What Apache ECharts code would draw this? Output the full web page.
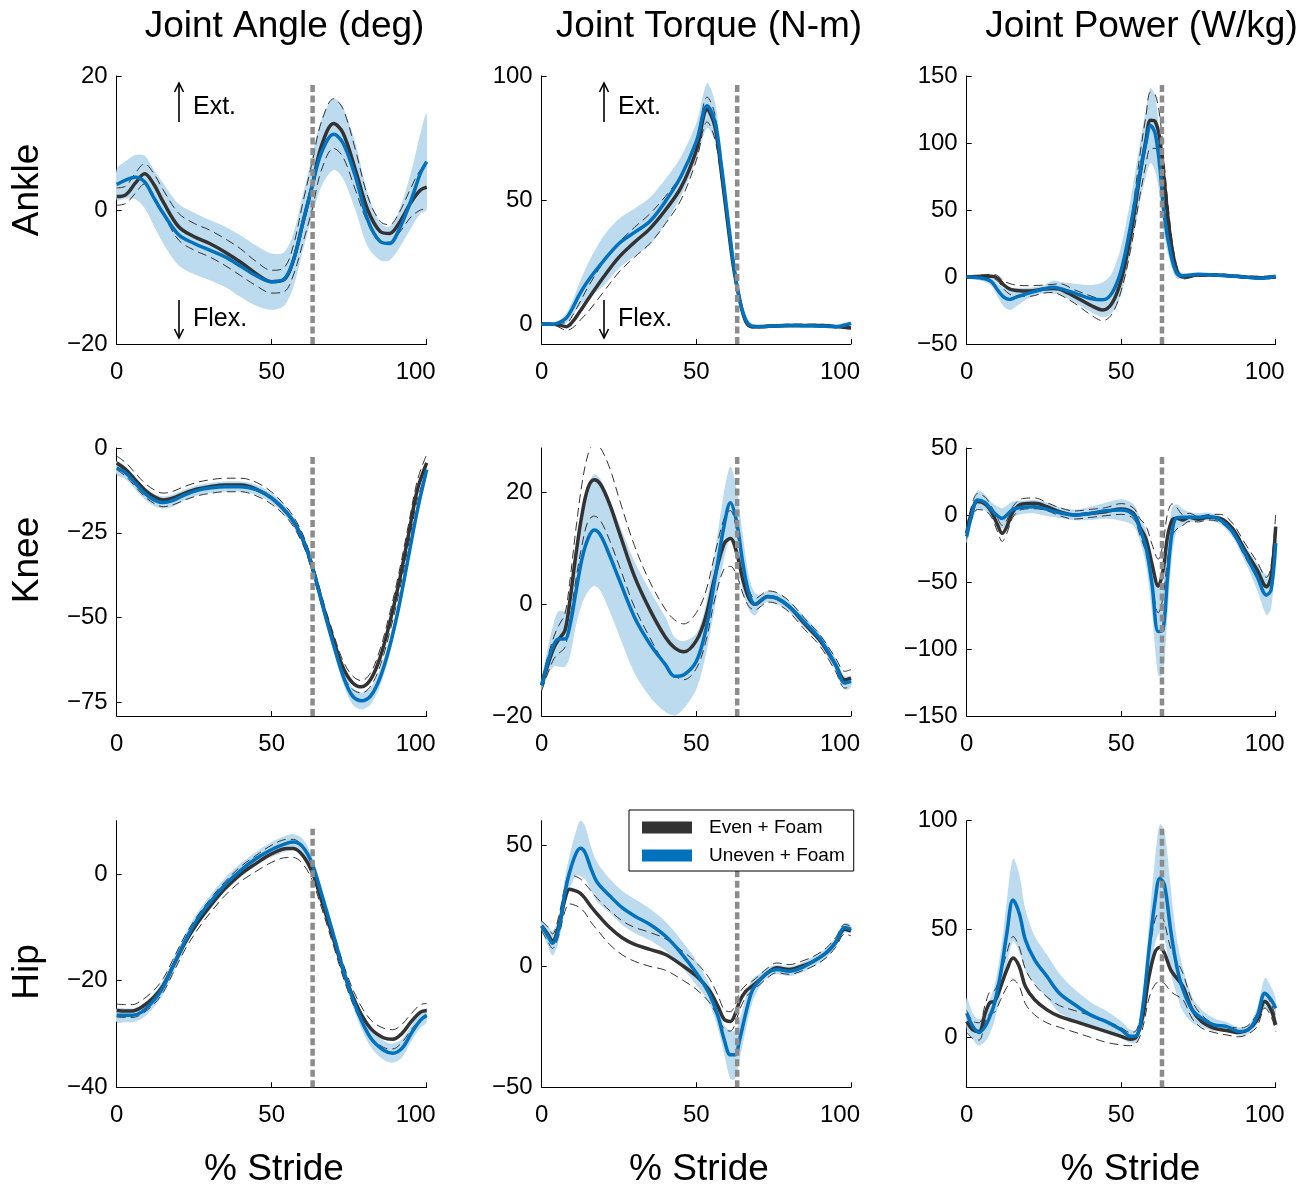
<!DOCTYPE html>
<html><head><meta charset="utf-8">
<script src="https://cdn.jsdelivr.net/npm/echarts@6/dist/echarts.min.js"></script>
<style>html,body{margin:0;padding:0;background:#fff;}#c{width:1312px;height:1193px;}</style>
</head><body><div id="c"></div>
<script>
// ---------- DATA ----------
const toeOff = 63.2;

// Ankle angle (deg)
const ankleAngleX = [0,3,6,9,12,15,20,25,30,35,40,45,50,54,57,60,63,66,70,73,77,81,85,88,91,95,98,100];
const ankleAngleEvenMean = [2,2.3,4,5.4,3.8,1.2,-2.5,-4,-5,-6.3,-7.8,-9.5,-10.7,-10.4,-7.5,-2,3.5,9.5,12.9,11.5,6,0,-3.2,-3.5,-2,1.2,3,3.4];
const ankleAngleEvenSd = [1.3,1.3,1.5,1.5,1.6,1.8,2,2,2,2,2,1.8,1.7,1.8,2.2,3,3.5,3.6,3.7,3.6,3,2,1.5,1.3,1.5,2.2,3,3.2];
const ankleAngleUnevenMean = [3.8,4.5,4.9,4.2,1.8,-0.5,-3.7,-5,-6,-7,-8.4,-9.8,-10.7,-10.3,-7.5,-2,3.5,8.5,11.3,10,5,-1.5,-4.7,-5,-3,1.5,5.5,7.2];
const ankleAngleUnevenSd = [2.3,2.8,3.3,3.9,4.2,4.5,4.6,4.6,4.5,4.5,4.6,4.5,4.2,4,4,4.2,4.5,5,5.3,5.3,5,4,2.8,2.5,2.8,4.2,6,7.2];

// Ankle torque (N-m)
const ankleTorqueX = [0,4,6,8,10,12,15,20,25,30,35,40,45,50,53.5,56,58,60,62,64,66,68,70,80,90,95,100];
const ankleTorqueEvenMean = [0,0,-0.5,-1,1,4.5,10,19,27,33,38.5,46,55,70,86.5,79.6,62,42,23,9.8,1,-1,-1,-0.5,-0.5,-1,-1.5];
const ankleTorqueEvenSd = [0.5,0.5,1,1.5,2.5,3.5,5,6,6,6,6,5.5,5,4,5,5,3,2,1.5,1,0.5,0.5,0.5,0.5,0.5,0.5,0.5];
const ankleTorqueUnevenMean = [0,0,0.8,2.5,6.5,11.5,17.5,25.5,32.5,37,41.5,49.5,59.5,73.6,88,81.6,64.8,44.7,24.6,9.8,1.7,-0.8,-1,-0.5,-0.8,-1,0.3];
const ankleTorqueUnevenSd = [0.5,0.5,1,2,3,4.5,7,10,10,9.5,9.5,9,8,7.5,9,8,6,4,2.5,1.5,1.5,1,0.8,0.8,0.8,0.8,0.8];

// Ankle power (W/kg)
const anklePowerX = [0,5,8,10,12,14,16,20,25,28,30,35,40,44,47,50,53,56,58,59.5,61,62.5,64,66,68,70,75,80,90,95,100];
const anklePowerEvenMean = [0,0.5,0.5,-1,-6,-9,-10,-10.5,-9,-8.5,-9,-14.7,-21,-24.6,-19.7,-2.2,30,75,102,117,116,103,70,28,5,0,1.5,1.5,0,-0.5,0];
const anklePowerEvenSd = [0.5,1,1.5,2,3,4,4,4,3,3,4,5,7,8,8,8,10,15,18,21,20,17,13,8,3,1.5,1,1,1,1,1];
const anklePowerUnevenMean = [0,-1,-3.5,-9.7,-15,-16.7,-15,-12,-9,-7.7,-8.5,-12,-16,-17,-12,5,37.6,77,100,113,107,82,45,17.7,2.7,1,2,1.5,0,-1,0.5];
const anklePowerUnevenSd = [0.5,2,3,5,7,8,7,4,3,5,5,7,10,13,15,18,20,22,25,28,28,22,15,8,4,2,1,1,1,1,1];

// Knee angle (deg)
const kneeAngleX = [0,3,6,9,12,15,18,22,26,30,35,40,45,50,55,58,61,64,67,70,73,76,79,82,85,88,91,94,97,100];
const kneeAngleEvenMean = [-4.4,-6.4,-9.4,-12.3,-14.3,-15.3,-14.8,-13.3,-12.1,-11.4,-10.9,-10.9,-12.1,-14.8,-19.2,-23.2,-29.1,-38,-47.9,-56.8,-64.7,-69.1,-70.4,-68.1,-61.7,-51.8,-40,-26.2,-12.3,-4.4];
const kneeAngleEvenSd = [2,2,2,2,2,2,2,2,2,2,2,2,2,1.8,1.5,1.5,1.5,1.5,1.5,1.8,2,2,1.8,2,2.5,2.8,3,3,2.8,2.5];
const kneeAngleUnevenMean = [-5.9,-7.4,-10.4,-13.3,-15.3,-16.1,-15.5,-13.8,-12.5,-11.8,-11.4,-11.4,-12.3,-14.8,-19.2,-23.2,-29.1,-38,-48.4,-58.2,-67.1,-73,-74.5,-73,-67.6,-58.7,-46.9,-32.6,-18.3,-6.4];
const kneeAngleUnevenSd = [2,1.8,1.8,1.8,1.8,1.8,1.8,1.6,1.5,1.5,1.5,1.5,1.5,1.5,1.5,1.5,1.5,1.5,1.5,1.8,2.2,2.5,2.5,2.5,2.5,2.3,2,2,2,2];

// Knee torque (N-m)
const kneeTorqueX = [0,2,4,5.5,7.5,9,11,13,15,17,19,22,25,30,35,40,43,46,50,53,56,59,61,63,65,67,69,71,73,76,80,85,90,95,98,100];
const kneeTorqueEvenMean = [-14.5,-10.8,-7.7,-6.3,-4.7,0.2,8.7,16,20.9,22.3,21.5,17.9,13,5,-1,-5.9,-7.8,-8.5,-6.5,-2.3,5,10.9,11.8,9.3,4.5,1.1,0,0.7,1.4,1.1,-0.4,-3.5,-6.5,-10.8,-13.5,-13.2];
const kneeTorqueEvenSd = [1,1.5,2,2.5,3,3.5,4.5,5.5,6,6.5,6.5,6.5,6,5.5,5,5,5,5,5,4.5,4,4.5,5,4,2.5,1.5,1,1,1,1,1,1,1,1.2,1.5,1.5];
const kneeTorqueUnevenMean = [-14.5,-10.2,-7.1,-6.2,-6.2,-4.1,2,8.1,11.8,13.3,12.4,8.7,4.5,-2.3,-7.1,-10.8,-12.9,-12.6,-10.2,-4.7,4.5,14.2,18.2,14.8,7.5,2,0,0.8,1.4,1.1,-0.4,-3.2,-6.2,-10.8,-14.1,-13.8];
const kneeTorqueUnevenSd = [1,2.5,4,5,5,5.5,6,8,9.5,10,10,10,10,10,9.5,8.5,7,6,5,4.5,5,6,6.5,6,5,3,2,1,1,1,1,1,1,1.2,1.2,1];

// Knee power (W/kg)
const kneePowerX = [0,1.5,3.5,6,8,10,11.5,13,15,18,22,26,30,35,40,45,50,54,56,58,60,62,63.5,65,66.5,68,70,72,75,78,82,86,90,94,97,98.5,100];
const kneePowerEvenMean = [-13.7,1.2,10,8.2,2.5,-7.5,-13.7,-8.7,2.5,8.2,8.7,6.2,2.5,0,1.2,2.5,4.5,1.2,-8.7,-18,-37,-53,-42,-16,-3.7,-2.5,-3.7,-1.7,-3.2,-1.7,-2.5,-10,-26,-41,-53.5,-46,-8.7];
const kneePowerEvenSd = [4,5,6,5,4,5,6,5,4,4,4,3,3,3,3,3,4,4,6,10,15,20,20,17,12,8,4,3,2,2,3,4,5,6,7,8,10];
const kneePowerUnevenMean = [-16,-1.2,11.2,9.2,3.7,-0.7,-2.5,0,4.2,5.7,6.2,4.2,1.7,0,1.2,3.2,3.7,0,-10,-24,-52,-87,-86,-46,-12,-2,-1.7,-1.7,-1.7,-1.2,-3.7,-12.4,-28.6,-46,-59.7,-56,-21];
const kneePowerUnevenSd = [5,6,7,6,6,7,7.5,7,6,5,5,5,4,4,5,6,8,8,9,13,22,33,33,28,18,10,6,4,3,3,3,4,6,10,15,14,8];

// Hip angle (deg)
const hipAngleX = [0,3,5,8,12,15,18,22,26,30,35,40,45,50,55,57,60,63,66,70,74,78,82,86,89,92,95,98,100];
const hipAngleEvenMean = [-25.6,-25.7,-25.7,-25,-23.1,-20.9,-17.5,-12.9,-9.2,-6.1,-2.7,0,2,3.8,4.8,4.8,3.5,0.4,-4.8,-12.3,-19.7,-25.3,-29,-30.7,-31,-29.9,-27.7,-25.9,-25.6];
const hipAngleEvenSd = [1.2,1.2,1.2,1.3,1.3,1.3,1.3,1.3,1.3,1.3,1.3,1.4,1.5,1.6,1.7,1.7,1.6,1.5,1.4,1.3,1.3,1.4,1.6,1.8,1.8,1.7,1.5,1.4,1.3];
const hipAngleUnevenMean = [-26.5,-26.5,-26.5,-25.9,-23.7,-21.2,-17.5,-12.6,-8.5,-5.4,-2,0.7,2.9,4.6,5.8,6,5.1,2,-3.6,-11.6,-19.7,-26.2,-30.8,-33,-33.6,-32.7,-29.9,-27.4,-26.5];
const hipAngleUnevenSd = [1.3,1.3,1.3,1.3,1.3,1.3,1.3,1.3,1.3,1.3,1.3,1.3,1.3,1.4,1.5,1.5,1.5,1.4,1.3,1.3,1.3,1.5,1.7,1.8,1.8,1.7,1.5,1.4,1.3];

// Hip torque (N-m)
const hipTorqueX = [0,2,3.5,5.5,7.5,9,11,12.5,14,16,18,22,26,30,35,40,45,50,54,57,59,61,62.5,64,66,68,70,73,76,80,84,88,92,95,98,100];
const hipTorqueEvenMean = [16.6,13.1,10.3,16.6,27.6,31.7,31,30,28,24.5,21.4,15.9,11.7,9,6.9,4.8,0.7,-4.1,-9.7,-16.6,-22,-22.8,-20,-14.5,-10.3,-8.3,-6.2,-2.8,-0.7,-1.4,0,2.1,5.5,9.7,15.2,14.5];
const hipTorqueEvenSd = [2,3,3,4,5,6,6,6,6,6.5,6.5,7,7,7,7,6.5,6,5.5,5,4.5,4,4,4,3.5,2.5,2,2,2,2,2,2,2,2,2,2,2];
const hipTorqueUnevenMean = [16.6,12.4,9.4,15.2,30.3,38.6,46.2,48.6,46.9,40,34.5,29,24.1,20.7,17.2,12.4,5.5,-2.8,-11,-20.7,-30.3,-36.6,-36.6,-30.3,-19.3,-10.3,-6.6,-2.8,-1.4,-2.1,-0.7,2.1,5.5,9.7,15.9,15.2];
const hipTorqueUnevenSd = [2,4,5,5,6,7,9,11.5,11,9,8,7,7,7,6.5,6,5.5,5,4,5,6,10,10,8,7,5,3,2,2,2,2,2,2,2,2,1.5];

// Hip power (W/kg)
const hipPowerX = [0,2,4,6,7.5,9,11,13,15,17,19,22,26,30,35,40,45,50,53,55,57,59,61,62.5,64,66,68,70,73,76,80,84,88,91,94,96.5,98.5,100];
const hipPowerEvenMean = [7.4,3.5,2.8,11.2,16.1,16.6,23.5,31.2,36.6,32.7,23.5,17.4,12.7,9.7,7.4,5.1,2.8,0.5,-0.8,0.5,9.7,28.1,39.6,41.6,38.9,31.2,27.3,23.5,12.7,7.4,4.3,3.2,2.3,3.5,8.1,16.6,12.7,5.8];
const hipPowerEvenSd = [5,4,4,4,5,5,6,8,10,9,8,7,6,5,5,5,5,4,3,3,5,10,15,16,14,10,8,6,4,3,2,2,2,2,3,3,3,3];
const hipPowerUnevenMean = [11.2,5.1,2.3,5.1,9.7,15.8,29.6,48.1,63.4,57.3,45,35.8,28.1,20.4,15.1,10.4,7.4,3.5,0.5,0.8,14.3,40.4,63.4,73.4,70.4,49.6,32.7,22,12.7,8.9,5.8,5.1,2.8,3.5,9.7,20.4,17.4,13.5];
const hipPowerUnevenSd = [7,6,6,7,8,8,10,15,19,18,14,11,10,9,7,6,5,4,3,3,6,12,20,25,25,20,13,10,6,4,3,2,2,2,4,7,6,4];

// Axis ranges and tick labels
const yRanges = [[-20,20],[-8,100],[-50,150],[-79,0],[-20,28],[-150,50],[-40,10],[-50,60],[-23,100]];
const yTicks = [[-20,0,20],[0,50,100],[-50,0,50,100,150],[-75,-50,-25,0],[-20,0,20],[-150,-100,-50,0,50],[-40,-20,0],[-50,0,50],[0,50,100]];

const columnTitles = ['Joint Angle (deg)', 'Joint Torque (N-m)', 'Joint Power (W/kg)'];
const rowTitles = ['Ankle', 'Knee', 'Hip'];
const xTitle = '% Stride';
const legendNames = ['Even + Foam', 'Uneven + Foam'];

// ---------- BUILD ----------
const panels = [
  [ankleAngleX, ankleAngleEvenMean, ankleAngleEvenSd, ankleAngleUnevenMean, ankleAngleUnevenSd],
  [ankleTorqueX, ankleTorqueEvenMean, ankleTorqueEvenSd, ankleTorqueUnevenMean, ankleTorqueUnevenSd],
  [anklePowerX, anklePowerEvenMean, anklePowerEvenSd, anklePowerUnevenMean, anklePowerUnevenSd],
  [kneeAngleX, kneeAngleEvenMean, kneeAngleEvenSd, kneeAngleUnevenMean, kneeAngleUnevenSd],
  [kneeTorqueX, kneeTorqueEvenMean, kneeTorqueEvenSd, kneeTorqueUnevenMean, kneeTorqueUnevenSd],
  [kneePowerX, kneePowerEvenMean, kneePowerEvenSd, kneePowerUnevenMean, kneePowerUnevenSd],
  [hipAngleX, hipAngleEvenMean, hipAngleEvenSd, hipAngleUnevenMean, hipAngleUnevenSd],
  [hipTorqueX, hipTorqueEvenMean, hipTorqueEvenSd, hipTorqueUnevenMean, hipTorqueUnevenSd],
  [hipPowerX, hipPowerEvenMean, hipPowerEvenSd, hipPowerUnevenMean, hipPowerUnevenSd]
];

const FONT = '"Liberation Sans", Arial, Helvetica, sans-serif';
const colL = [116.7, 541.7, 966.7], colW = [310, 309.3, 309];
const rowT = [76, 448, 820.7], rowH = [268, 268, 266.6];
const EVEN = '#333333', UNEVEN = '#0072BD', BAND = '#bddbee';
const SM = 0.35;
const minus = v => String(v).replace('-', '\u2212');

const grids = [], xAxes = [], yAxes = [], series = [];
panels.forEach((p, i) => {
  const [X, em, es, um, us] = p;
  const r = Math.floor(i / 3), c = i % 3;
  const [ymin, ymax] = yRanges[i];
  grids.push({left: colL[c], top: rowT[r], width: colW[c], height: rowH[r], containLabel: false, outerBoundsMode: 'none', show: false});
  xAxes.push({
    gridIndex: i, type: 'value', min: 0, max: 100, interval: 50,
    axisLine: {show: true, onZero: false, lineStyle: {color: '#000', width: 1}},
    axisTick: {show: true, inside: true, length: 5, lineStyle: {color: '#000', width: 1}},
    axisLabel: {margin: 16, fontSize: 24, color: '#000', fontFamily: FONT,
      formatter: v => v === 100 ? '{m|100}' : String(v),
      rich: {m: {fontSize: 24, color: '#000', fontFamily: FONT, padding: [0, 22, 0, 0]}}},
    splitLine: {show: false}
  });
  yAxes.push({
    gridIndex: i, type: 'value', min: ymin, max: ymax,
    axisLine: {show: true, onZero: false, lineStyle: {color: '#000', width: 1}},
    axisTick: {show: true, inside: true, length: 5, customValues: yTicks[i], lineStyle: {color: '#000', width: 1}},
    axisLabel: {show: true, customValues: yTicks[i], margin: 9, fontSize: 24, color: '#000', fontFamily: FONT, formatter: minus},
    splitLine: {show: false}
  });
  const base = {type: 'line', xAxisIndex: i, yAxisIndex: i, symbol: 'none', smooth: SM, silent: true, animation: false};
  // Uneven +/- SD band: one smoothed polygon through the axis scales
  series.push({
    type: 'custom', name: 'band' + i, xAxisIndex: i, yAxisIndex: i, silent: true, z: 1, clip: true,
    data: [[X[0], um[0]]],
    renderItem: (params, api) => {
      const up = X.map((x, k) => api.coord([x, um[k] + us[k]]));
      const lo = X.map((x, k) => api.coord([x, um[k] - us[k]])).reverse();
      return {type: 'polygon', shape: {points: up.concat(lo), smooth: 0.3}, style: {fill: BAND, stroke: null}};
    }
  });
  // Even +/- SD dashed
  const dash = {color: EVEN, width: 1, type: [9, 5]};
  series.push(Object.assign({}, base, {name: 'evenHi' + i, data: X.map((x, k) => [x, em[k] + es[k]]), lineStyle: dash, z: 2}));
  series.push(Object.assign({}, base, {name: 'evenLo' + i, data: X.map((x, k) => [x, em[k] - es[k]]), lineStyle: dash, z: 2}));
  // Means
  series.push(Object.assign({}, base, {name: legendNames[0], color: EVEN, itemStyle: {color: EVEN},
    data: X.map((x, k) => [x, em[k]]), lineStyle: {color: EVEN, width: 3.5}, z: 3}));
  series.push(Object.assign({}, base, {name: legendNames[1], color: UNEVEN, itemStyle: {color: UNEVEN},
    data: X.map((x, k) => [x, um[k]]), lineStyle: {color: UNEVEN, width: 3.5}, z: 4}));
  // Toe-off vertical line
  series.push(Object.assign({}, base, {name: 'toeOff' + i, smooth: false,
    data: [[toeOff, ymin], [toeOff, ymax - 0.03 * (ymax - ymin)]],
    lineStyle: {color: '#8c8c8c', width: 4.5, type: [7, 3.5]}, z: 5}));
});

const txt = (x, y, text, size, align, rot) => ({
  type: 'text', x: x, y: y, rotation: rot || 0, z: 100,
  style: {text: text, fontSize: size, fontFamily: FONT, fill: '#000',
    align: align || 'center', verticalAlign: 'middle', textAlign: align || 'center', textVerticalAlign: 'middle'}
});
const graphic = [];
[284.5, 709, 1141.5].forEach((x, c) => graphic.push(txt(x, 27, columnTitles[c], 37)));
[274, 699, 1130.5].forEach(x => graphic.push(txt(x, 1170, xTitle, 37)));
[190, 560, 972].forEach((y, r) => graphic.push(txt(28, y, rowTitles[r], 37, 'center', Math.PI / 2)));
[179, 604].forEach(ax => {
  const st = {stroke: '#000', lineWidth: 1.6, fill: null};
  graphic.push({type: 'line', shape: {x1: ax, y1: 122, x2: ax, y2: 83}, style: st, z: 100});
  graphic.push({type: 'polyline', shape: {points: [[ax - 4.5, 92], [ax, 83], [ax + 4.5, 92]]}, style: st, z: 100});
  graphic.push({type: 'line', shape: {x1: ax, y1: 300, x2: ax, y2: 338}, style: st, z: 100});
  graphic.push({type: 'polyline', shape: {points: [[ax - 4.5, 329], [ax, 338], [ax + 4.5, 329]]}, style: st, z: 100});
  graphic.push(txt(ax + 14, 107, 'Ext.', 25, 'left'));
  graphic.push(txt(ax + 14, 319, 'Flex.', 25, 'left'));
});

const option = {
  animation: false,
  backgroundColor: '#fff',
  grid: grids, xAxis: xAxes, yAxis: yAxes, series: series,
  legend: {
    data: legendNames, orient: 'vertical', left: 629, top: 810, z: 20,
    padding: [8, 9, 6, 13], itemGap: 9, itemWidth: 50, itemHeight: 12, icon: 'rect',
    backgroundColor: '#fff', borderColor: '#000', borderWidth: 1, borderRadius: 0,
    selectedMode: false,
    textStyle: {fontSize: 19, color: '#000', fontFamily: FONT, padding: [0, 0, 0, 12]}
  },
  graphic: graphic
};
const chart = echarts.init(document.getElementById('c'), null, {renderer: 'canvas'});
chart.setOption(option);
</script></body></html>
